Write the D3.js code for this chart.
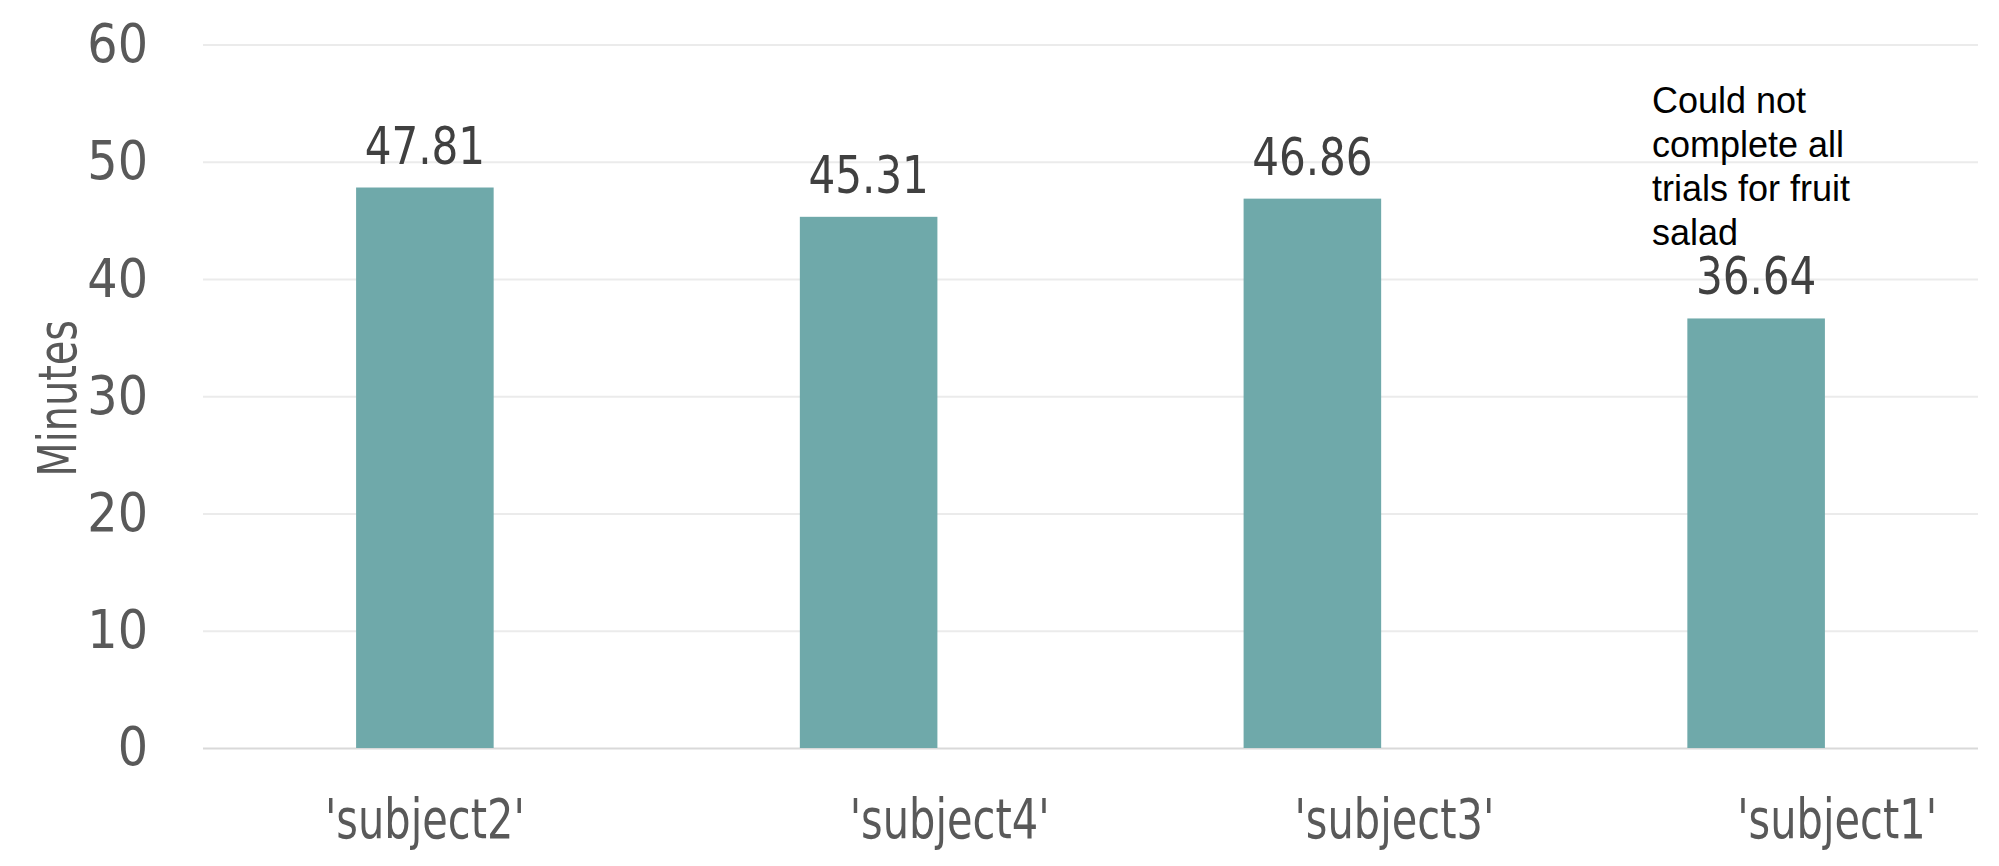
<!DOCTYPE html>
<html>
<head>
<meta charset="utf-8">
<script src="https://cdn.jsdelivr.net/npm/d3@7"></script>
<style>
  html, body { margin: 0; padding: 0; background: #ffffff; }
  svg { display: block; }
</style>
</head>
<body>
<svg id="chart" width="1999" height="866"></svg>
<script>
// ---- data ----
const categories = ["'subject2'", "'subject4'", "'subject3'", "'subject1'"];
const minutes = [47.81, 45.31, 46.86, 36.64];
const valueLabels = ["47.81", "45.31", "46.86", "36.64"];
const yTicks = [0, 10, 20, 30, 40, 50, 60];
const yTitle = "Minutes";
const noteLines = ["Could not", "complete all", "trials for fruit", "salad"];

// ---- layout ----
const W = 1999, H = 866;
const margin = { top: 44.6, right: 21, bottom: 118, left: 203 };
const labelShift = [0, 81, 82, 81];   // category labels sit right of their bars
const narrow = "'DejaVu Sans Condensed', 'DejaVu Sans', sans-serif";
const textColor = "#595959";
const barColor = "#6fa9aa";

const svg = d3.select("#chart");

const x = d3.scaleBand()
  .domain(categories)
  .range([margin.left, W - margin.right])
  .paddingInner(0.69)
  .paddingOuter(0.345);

const y = d3.scaleLinear()
  .domain([0, 60])
  .range([H - margin.bottom, margin.top]);

// gridlines + y tick labels
const yAxis = d3.axisLeft(y)
  .tickValues(yTicks)
  .tickSize(-(W - margin.left - margin.right))
  .tickPadding(55)
  .tickFormat(d3.format("d"));

const gy = svg.append("g")
  .attr("transform", `translate(${margin.left},0)`)
  .call(yAxis);
gy.select(".domain").remove();
gy.selectAll(".tick line")
  .attr("stroke", d => d === 0 ? "#d9d9d9" : "#ebebeb")
  .attr("stroke-width", 2);
gy.selectAll(".tick text")
  .attr("fill", textColor)
  .style("font-family", narrow)
  .style("font-size", "53px");

// bars
svg.append("g").selectAll("rect")
  .data(minutes)
  .join("rect")
  .attr("x", (d, i) => x(categories[i]))
  .attr("y", d => y(d))
  .attr("width", x.bandwidth())
  .attr("height", d => y(0) - y(d))
  .attr("fill", barColor);

// value labels (horizontally condensed to match the narrow face)
svg.append("g").selectAll("text")
  .data(minutes)
  .join("text")
  .attr("transform", (d, i) =>
    `translate(${x(categories[i]) + x.bandwidth() / 2},${y(d) - 24}) scale(0.9,1)`)
  .attr("text-anchor", "middle")
  .attr("fill", "#404040")
  .style("font-family", narrow)
  .style("font-size", "52px")
  .text((d, i) => valueLabels[i]);

// category labels
svg.append("g").selectAll("text")
  .data(categories)
  .join("text")
  .attr("transform", (d, i) =>
    `translate(${x(d) + x.bandwidth() / 2 + labelShift[i]},838) scale(0.84,1)`)
  .attr("text-anchor", "middle")
  .attr("fill", textColor)
  .style("font-family", narrow)
  .style("font-size", "55px")
  .text(d => d);

// y axis title
svg.append("text")
  .attr("transform", `translate(76, ${(y(0) + y(60)) / 2 + 2}) rotate(-90) scale(0.82,1)`)
  .attr("text-anchor", "middle")
  .attr("fill", textColor)
  .style("font-family", narrow)
  .style("font-size", "54px")
  .text(yTitle);

// annotation
const note = svg.append("text")
  .attr("x", 1652)
  .attr("y", 113)
  .attr("fill", "#000000")
  .style("font-family", "'Liberation Sans', Arial, sans-serif")
  .style("font-size", "36px");
note.selectAll("tspan")
  .data(noteLines)
  .join("tspan")
  .attr("x", 1652)
  .attr("dy", (d, i) => i === 0 ? 0 : 44)
  .text(d => d);
</script>
</body>
</html>
